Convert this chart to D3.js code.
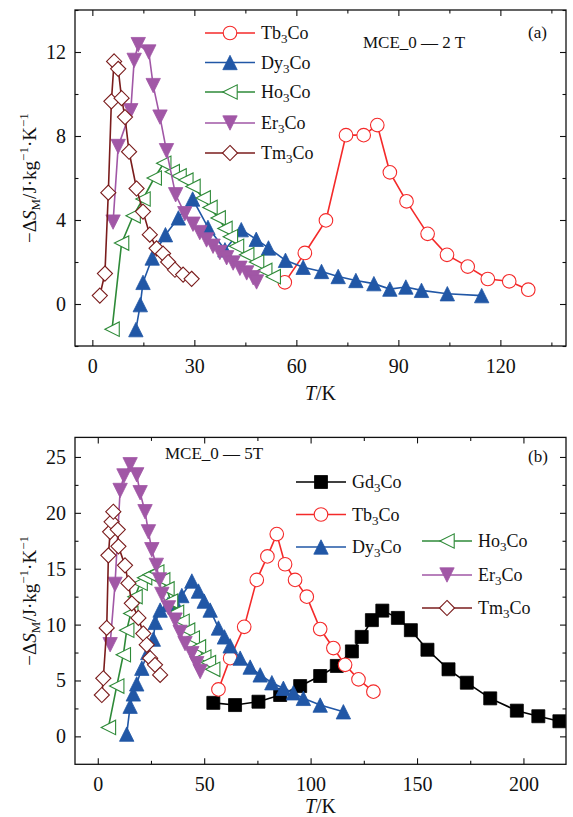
<!DOCTYPE html>
<html><head><meta charset="utf-8">
<script src="https://cdn.jsdelivr.net/npm/d3@7"></script>
<style>body{margin:0;background:#fff}svg text{font-family:"Liberation Serif","Times New Roman",serif !important;fill:#111}</style>
</head><body>
<svg id="c" width="573" height="817"></svg>
<script>
// ---------- DATA (T in K, -dS in J/kg/K) ----------
// Panel (a): MCE_0 — 2 T
const tb3coA = [[56.6,1.03],[62.5,2.43],[68.7,3.98],[74.6,8.04],[79.8,8.04],[83.8,8.52],[87.5,6.27],[92.4,4.89],[98.6,3.34],[104.3,2.34],[110.4,1.78],[116.3,1.19],[122.6,1.08],[128.2,0.68]];
const dy3coA = [[12.8,-1.22],[14.1,-0.03],[14.9,1.03],[17.6,2.19],[21.5,3.3],[25.3,4.1],[29.5,5.0],[34.0,3.65],[39.0,2.58],[43.8,3.54],[48.2,3.08],[51.8,2.67],[56.8,2.08],[62.0,1.75],[67.4,1.55],[72.3,1.31],[77.5,1.12],[82.8,0.97],[87.5,0.71],[92.2,0.81],[96.8,0.65],[104.4,0.49],[114.5,0.40]];
const ho3coA = [[5.8,-1.2],[8.6,2.9],[12.0,4.2],[14.9,5.0],[18.2,6.0],[21.0,6.7],[23.5,6.3],[25.5,6.1],[27.5,5.9],[29.6,5.6],[32.6,5.05],[34.6,4.6],[37.0,4.1],[39.0,3.6],[40.6,3.2],[42.4,2.75],[45.4,2.35],[48.3,2.0],[50.7,1.6],[53.2,1.3]];
const er3coA = [[6.1,3.9],[7.6,7.5],[11.3,9.2],[12.3,11.6],[13.5,12.35],[16.6,12.0],[17.9,10.4],[19.9,8.9],[21.8,7.3],[24.5,5.2],[27.2,4.3],[29.6,3.8],[31.6,3.4],[33.6,3.05],[35.5,2.75],[37.5,2.45],[39.5,2.2],[41.4,1.95],[43.4,1.7],[45.4,1.48],[47.3,1.25],[48.3,1.05]];
const tm3coA = [[2.2,0.4],[3.7,1.45],[4.7,5.3],[5.6,9.65],[6.4,11.55],[7.6,11.2],[8.6,9.8],[9.6,8.9],[10.8,7.25],[13.0,5.5],[14.9,4.4],[16.9,3.3],[18.9,2.65],[20.8,2.4],[22.3,2.0],[24.3,1.63],[26.7,1.4],[29.2,1.2]];
// Panel (b): MCE_0 — 5T
const gd3coB = [[54.3,3.0],[64.5,2.8],[75.5,3.1],[85.7,3.7],[95.1,4.5],[104.5,5.4],[112.3,6.3],[119.4,7.6],[124.0,8.9],[128.8,10.4],[133.7,11.25],[141.0,10.6],[147.1,9.5],[154.9,7.75],[164.8,6.0],[173.4,4.8],[184.4,3.4],[196.9,2.3],[207.0,1.8],[216.9,1.35]];
const tb3coB = [[56.7,4.2],[62.2,7.0],[68.8,9.8],[74.7,14.0],[79.7,16.1],[84.1,18.1],[88.0,15.4],[92.7,14.0],[98.2,12.5],[104.5,9.6],[110.7,7.9],[116.2,6.4],[122.5,5.1],[129.5,4.0]];
const dy3coB = [[13.6,0.2],[15.2,2.7],[16.7,3.8],[18.3,4.7],[20.7,6.1],[23.5,7.5],[26.1,8.7],[27.0,10.2],[29.3,11.3],[33.0,11.8],[36.3,12.0],[39.5,12.6],[44.2,13.9],[47.3,13.0],[50.0,12.1],[52.8,11.3],[56.7,9.7],[59.5,8.9],[62.2,8.1],[66.9,7.0],[71.6,6.2],[76.3,5.5],[81.8,4.8],[87.2,4.3],[91.9,3.9],[96.6,3.4],[104.5,2.8],[115.4,2.2]];
const ho3coB = [[5.0,0.8],[8.9,4.5],[12.0,7.3],[13.6,9.5],[15.5,11.0],[17.5,12.5],[19.9,13.7],[22.0,14.2],[24.6,14.45],[27.7,14.7],[30.5,14.0],[32.5,13.2],[34.2,12.1],[37.0,11.1],[39.6,10.3],[42.2,9.5],[44.4,8.8],[47.3,8.0],[49.8,7.1],[52.0,6.6],[54.0,6.0]];
const er3coB = [[5.8,8.2],[8.1,13.6],[10.5,22.0],[12.3,23.3],[15.2,24.3],[18.3,23.4],[19.9,21.8],[22.2,20.1],[23.8,18.3],[25.4,16.7],[27.5,15.3],[29.0,14.0],[30.1,12.7],[33.2,11.5],[36.3,10.4],[38.7,9.3],[41.0,8.3],[44.2,7.4],[46.5,6.5],[48.1,5.8]];
const tm3coB = [[1.9,3.7],[2.6,5.2],[4.2,9.7],[5.0,16.2],[5.8,18.3],[6.5,19.2],[7.3,20.1],[9.4,18.5],[9.7,17.0],[12.8,15.3],[14.4,13.7],[16.0,11.9],[19.1,10.6],[21.4,9.2],[23.0,8.2],[24.6,7.0],[26.9,6.4],[29.3,5.5]];

const xTicksA = [0,30,60,90,120], xMinorA = [15,45,75,105,135];
const yTicksA = [0,4,8,12], yMinorA = [-2,2,6,10,14];
const xTicksB = [0,50,100,150,200], xMinorB = [25,75,125,175];
const yTicksB = [0,5,10,15,20,25], yMinorB = [2.5,7.5,12.5,17.5,22.5];

// ---------- STYLES ----------
const st = {
  Gd:{name:"Gd",color:"#000000",marker:"square"},
  Tb:{name:"Tb",color:"#f42a2a",marker:"circle"},
  Dy:{name:"Dy",color:"#2157a6",marker:"triUp"},
  Ho:{name:"Ho",color:"#2e8a38",marker:"triLeft"},
  Er:{name:"Er",color:"#a157a6",marker:"triDown"},
  Tm:{name:"Tm",color:"#7a1c1c",marker:"diamond"}
};

const svg = d3.select("#c");
const FONT = 20;

function markerPath(type){
  const s=7.2;
  switch(type){
    case "triUp": return `M0,${-s}L${s},${s}L${-s},${s}Z`;
    case "triDown": return `M0,${s}L${s},${-s}L${-s},${-s}Z`;
    case "triLeft": return `M${-s},0L${s},${-s}L${s},${s}Z`;
    case "diamond": return `M0,${-s*1.05}L${s*1.05},0L0,${s*1.05}L${-s*1.05},0Z`;
    case "square": return `M${-6.5},${-6.5}H6.5V6.5H-6.5Z`;
  }
}
function drawMarker(g, type, color, x, y){
  if(type==="circle"){
    g.append("circle").attr("cx",x).attr("cy",y).attr("r",6.8)
      .attr("fill","#fff").attr("stroke",color).attr("stroke-width",1.1);
  } else {
    const filled = (type==="triUp"||type==="triDown"||type==="square");
    g.append("path").attr("d",markerPath(type)).attr("transform",`translate(${x},${y})`)
      .attr("fill",filled?color:"#fff").attr("stroke",color).attr("stroke-width",filled?0.8:1.1);
  }
}

function drawPanel(cfg){
  const {x0,x1,y0,y1,xDom,yDom,series,xT,xM,yT,yM} = cfg;
  const x = d3.scaleLinear().domain(xDom).range([x0,x1]);
  const y = d3.scaleLinear().domain(yDom).range([y1,y0]);
  const g = svg.append("g");
  const clipId = "clip"+cfg.id;
  svg.append("clipPath").attr("id",clipId).append("rect").attr("x",x0).attr("y",y0).attr("width",x1-x0).attr("height",y1-y0);
  const plot = g.append("g").attr("clip-path",`url(#${clipId})`);
  const line = d3.line().x(d=>x(d[0])).y(d=>y(d[1]));
  series.forEach(s=>{
    const sg = plot.append("g");
    sg.append("path").datum(s.data).attr("d",line).attr("fill","none")
      .attr("stroke",s.st.color).attr("stroke-width",1.6);
    s.data.forEach(d=>drawMarker(sg,s.st.marker,s.st.color,x(d[0]),y(d[1])));
  });
  // axes
  const mk = (axisFn, scale, ticks, size, pad, fmt) => axisFn(scale).tickValues(ticks).tickSize(size).tickPadding(pad).tickFormat(fmt);
  const noLab = ()=>"";
  g.append("g").attr("transform",`translate(0,${y1})`).call(mk(d3.axisBottom,x,xT,-6,13,d3.format("d")));
  g.append("g").attr("transform",`translate(0,${y1})`).call(mk(d3.axisBottom,x,xM,-3.5,0,noLab));
  g.append("g").attr("transform",`translate(0,${y0})`).call(mk(d3.axisTop,x,xT,-6,0,noLab));
  g.append("g").attr("transform",`translate(0,${y0})`).call(mk(d3.axisTop,x,xM,-3.5,0,noLab));
  g.append("g").attr("transform",`translate(${x0},0)`).call(mk(d3.axisLeft,y,yT,-6,9,d3.format("d")));
  g.append("g").attr("transform",`translate(${x0},0)`).call(mk(d3.axisLeft,y,yM,-3.5,0,noLab));
  g.append("g").attr("transform",`translate(${x1},0)`).call(mk(d3.axisRight,y,yT,-6,0,noLab));
  g.append("g").attr("transform",`translate(${x1},0)`).call(mk(d3.axisRight,y,yM,-3.5,0,noLab));
  g.selectAll(".domain").remove();
  g.selectAll(".tick line").attr("stroke","#111").attr("stroke-width",1.1);
  g.selectAll(".tick text").attr("font-size",FONT).attr("fill","#111");
  g.append("rect").attr("x",x0).attr("y",y0).attr("width",x1-x0).attr("height",y1-y0)
    .attr("fill","none").attr("stroke","#111").attr("stroke-width",1.3);
  // x label
  const xl = g.append("text").attr("x",(x0+x1)/2).attr("y",cfg.xLabY).attr("text-anchor","middle").attr("font-size",FONT);
  xl.append("tspan").attr("font-style","italic").text("T");
  xl.append("tspan").text("/K");
  // y label
  const yl = g.append("text").attr("transform",`translate(36,${(y0+y1)/2}) rotate(-90)`)
    .attr("text-anchor","middle").attr("font-size",19);
  yl.append("tspan").text("−Δ");
  yl.append("tspan").attr("font-style","italic").text("S");
  yl.append("tspan").attr("font-size",13).attr("dy",4).text("M");
  yl.append("tspan").attr("dy",-4).text("/J·kg");
  yl.append("tspan").attr("font-size",13).attr("dy",-8).text("−1");
  yl.append("tspan").attr("dy",8).text("·K");
  yl.append("tspan").attr("font-size",13).attr("dy",-8).text("−1");
  // legend
  cfg.legend.forEach(L=>{
    const s = L.st;
    g.append("line").attr("x1",L.x).attr("x2",L.x+50).attr("y1",L.y).attr("y2",L.y)
      .attr("stroke",s.color).attr("stroke-width",1.6);
    drawMarker(g,s.marker,s.color,L.x+25,L.y);
    const t = g.append("text").attr("x",L.x+56).attr("y",L.y+6).attr("font-size",18);
    t.append("tspan").text(s.name);
    t.append("tspan").attr("font-size",13).attr("dy",4).text("3");
    t.append("tspan").attr("dy",-4).text("Co");
  });
  cfg.notes.forEach(n=>{
    g.append("text").attr("x",n.x).attr("y",n.y).attr("font-size",n.size||17).text(n.t);
  });
}

drawPanel({id:"a",x0:75,x1:566,y0:10,y1:346,xDom:[-5.1,139.3],yDom:[-2,14],
  series:[{st:st.Tb,data:tb3coA},{st:st.Dy,data:dy3coA},{st:st.Ho,data:ho3coA},{st:st.Er,data:er3coA},{st:st.Tm,data:tm3coA}],
  xT:xTicksA,xM:xMinorA,yT:yTicksA,yM:yMinorA,xLabY:400,
  legend:[{st:st.Tb,x:205,y:33},{st:st.Dy,x:205,y:62.5},{st:st.Ho,x:205,y:92},{st:st.Er,x:205,y:123},{st:st.Tm,x:205,y:153}],
  notes:[{t:"MCE_0 — 2 T",x:363,y:48},{t:"(a)",x:528,y:38}]
});
drawPanel({id:"b",x0:75,x1:566,y0:437.4,y1:764.3,xDom:[-10.7,220],yDom:[-2.5,26.75],
  series:[{st:st.Gd,data:gd3coB},{st:st.Tb,data:tb3coB},{st:st.Dy,data:dy3coB},{st:st.Ho,data:ho3coB},{st:st.Er,data:er3coB},{st:st.Tm,data:tm3coB}],
  xT:xTicksB,xM:xMinorB,yT:yTicksB,yM:yMinorB,xLabY:813,
  legend:[{st:st.Gd,x:296,y:482},{st:st.Tb,x:296,y:514.5},{st:st.Dy,x:296,y:547},{st:st.Ho,x:422,y:541},{st:st.Er,x:422,y:575},{st:st.Tm,x:422,y:608}],
  notes:[{t:"MCE_0 — 5T",x:165,y:459},{t:"(b)",x:528,y:462}]
});
</script>
</body></html>
